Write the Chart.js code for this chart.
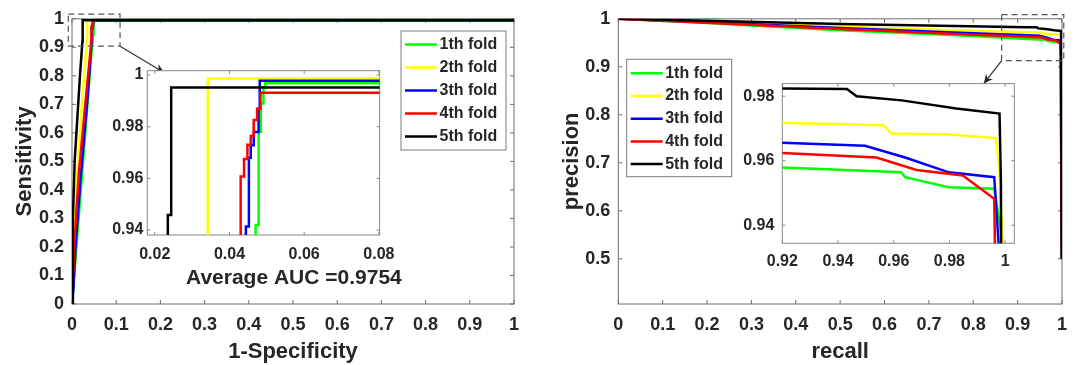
<!DOCTYPE html>
<html>
<head>
<meta charset="utf-8">
<script src="https://cdn.jsdelivr.net/npm/chart.js@4.4.1/dist/chart.umd.min.js"></script>
<style>
  body { margin: 0; background: #fff; }
  #wrap { position: relative; width: 1077px; height: 365px; }
  canvas { position: absolute; }
</style>
</head>
<body>
<div id="wrap">
  <canvas id="roc" width="540" height="365" style="left:0px;top:0px"></canvas>
  <canvas id="rocZoom" width="312" height="214" style="left:92px;top:56px"></canvas>
  <canvas id="pr" width="537" height="365" style="left:540px;top:0px"></canvas>
  <canvas id="prZoom" width="310" height="212" style="left:725px;top:66px"></canvas>
</div>
<script>
// ---- data ----
const foldLabels = ['1th fold', '2th fold', '3th fold', '4th fold', '5th fold'];
const aucLabel = 'Average AUC =0.9754';

const unitTicks = [0, 0.1, 0.2, 0.3, 0.4, 0.5, 0.6, 0.7, 0.8, 0.9, 1];
const rocZoomXTicks = [0.02, 0.04, 0.06, 0.08];
const rocZoomYTicks = [0.94, 0.96, 0.98, 1];
const prYTicks = [0.5, 0.6, 0.7, 0.8, 0.9, 1];
const prZoomXTicks = [0.92, 0.94, 0.96, 0.98, 1];
const prZoomYTicks = [0.94, 0.96, 0.98];

// ROC points: [1-specificity, sensitivity]
const rocFold1 = [[0,0],[0.01,0.2],[0.02,0.4],[0.035,0.7],[0.045,0.9],[0.047,0.93],[0.047,0.942],[0.0478,0.942],[0.0478,0.978],[0.0484,0.978],[0.0484,0.989],[0.0491,0.989],[0.0491,0.995],[0.0496,0.995],[0.0496,0.9968],[1,0.9968],[1,1]];
const rocFold2 = [[0,0],[0.004,0.2],[0.01,0.4],[0.02,0.65],[0.03,0.85],[0.0342,0.92],[0.0342,0.9987],[1,0.9987],[1,1]];
const rocFold3 = [[0,0],[0.003,0.05],[0.008,0.2],[0.02,0.45],[0.035,0.72],[0.0444,0.92],[0.0444,0.9414],[0.0452,0.9414],[0.0452,0.968],[0.0457,0.968],[0.0457,0.9728],[0.0465,0.9728],[0.0465,0.978],[0.0478,0.978],[0.0478,0.987],[0.0481,0.987],[0.0481,0.9978],[1,0.9978],[1,1]];
const rocFold4 = [[0,0],[0.005,0.2],[0.015,0.45],[0.03,0.7],[0.0425,0.9],[0.043,0.92],[0.043,0.9607],[0.0439,0.9607],[0.0439,0.9675],[0.0448,0.9675],[0.0448,0.973],[0.0457,0.973],[0.0457,0.9764],[0.0465,0.9764],[0.0465,0.9826],[0.0474,0.9826],[0.0474,0.987],[0.0483,0.987],[0.0483,0.9932],[1,0.9932],[1,1]];
const rocFold5 = [[0,0],[0.002,0.3],[0.006,0.5],[0.012,0.65],[0.018,0.8],[0.0235,0.92],[0.0235,0.9458],[0.0244,0.9458],[0.0244,0.9952],[1,0.9952],[1,1]];

// PR points: [recall, precision]
const prFold1 = [[0,1],[0.2,0.991],[0.5,0.976],[0.8,0.964],[0.92,0.9579],[0.9627,0.9564],[0.9641,0.9549],[0.9796,0.9518],[0.9961,0.9513],[1,0.93],[1,0.5]];
const prFold2 = [[0,1],[0.2,0.994],[0.5,0.984],[0.8,0.975],[0.92,0.9718],[0.9563,0.971],[0.9592,0.9684],[0.9789,0.9682],[0.9967,0.967],[0.998,0.9569],[0.9993,0.93],[1,0.5]];
const prFold3 = [[0,1],[0.2,0.993],[0.5,0.981],[0.8,0.97],[0.92,0.9656],[0.9497,0.9646],[0.9641,0.961],[0.9798,0.9564],[0.9961,0.9549],[0.998,0.93],[1,0.5]];
const prFold4 = [[0,1],[0.2,0.992],[0.5,0.979],[0.8,0.967],[0.92,0.9624],[0.9538,0.961],[0.9682,0.9571],[0.9848,0.9554],[0.9961,0.9482],[0.9964,0.93],[1,0.5]];
const prFold5 = [[0,1],[0.2,0.996],[0.5,0.989],[0.92,0.9824],[0.9432,0.9822],[0.9467,0.98],[0.9629,0.9787],[0.9825,0.9762],[0.998,0.9746],[0.9985,0.9528],[1,0.5]];

const rocFolds = [rocFold1, rocFold2, rocFold3, rocFold4, rocFold5];
const prFolds = [prFold1, prFold2, prFold3, prFold4, prFold5];

// ---- style ----
const foldColors = ['#00ff00', '#ffff00', '#0000ff', '#ff0000', '#000000'];
const FONT = '"Liberation Sans", Arial, sans-serif';
const INK = '#262626';

Chart.defaults.font.family = FONT;
Chart.defaults.font.weight = 'bold';
Chart.defaults.color = INK;

function makeDatasets(folds, width) {
    return folds.map((pts, i) => ({
        label: foldLabels[i],
        data: pts,
        borderColor: foldColors[i],
        borderWidth: width,
        pointRadius: 0,
        fill: false,
        tension: 0,
        order: folds.length - 1 - i   // last fold drawn on top, like MATLAB
    }));
}

function axis(min, max, tickValues, opts) {
    return {
        type: 'linear',
        min: min,
        max: max,
        grid: { display: false, drawTicks: false },
        border: { display: false },
        afterBuildTicks: scale => { scale.ticks = tickValues.map(v => ({ value: v })); },
        afterFit: scale => {
            if (opts.width !== undefined) scale.width = opts.width;
            if (opts.height !== undefined) scale.height = opts.height;
        },
        ticks: {
            autoSkip: false,
            maxRotation: 0,
            padding: opts.pad,
            font: { size: opts.size, weight: 'bold' },
            callback: v => String(v)
        },
        title: opts.title ? {
            display: true,
            text: opts.title,
            font: { size: 22, weight: 'bold' },
            padding: opts.titlePad
        } : { display: false }
    };
}

// box + inward tick marks, MATLAB style
const framePlugin = {
    id: 'frame',
    beforeDatasetsDraw(chart, args, o) {
        const { ctx, chartArea: a, scales: { x, y } } = chart;
        ctx.save();
        if (o.fill) {
            ctx.fillStyle = o.fill;
            ctx.fillRect(a.left, a.top, a.width, a.height);
        }
        ctx.strokeStyle = o.color;
        ctx.lineWidth = 1;
        ctx.strokeRect(a.left, a.top, a.width, a.height);
        ctx.beginPath();
        x.ticks.forEach(t => {
            const px = x.getPixelForValue(t.value);
            ctx.moveTo(px, a.bottom); ctx.lineTo(px, a.bottom - o.tick);
            ctx.moveTo(px, a.top); ctx.lineTo(px, a.top + o.tick);
        });
        y.ticks.forEach(t => {
            const py = y.getPixelForValue(t.value);
            ctx.moveTo(a.left, py); ctx.lineTo(a.left + o.tick, py);
            ctx.moveTo(a.right, py); ctx.lineTo(a.right - o.tick, py);
        });
        ctx.stroke();
        ctx.restore();
    }
};

// legend drawn inside the axes with a box
const boxLegend = {
    id: 'boxLegend',
    afterDatasetsDraw(chart, args, o) {
        if (!o.box) return;
        const ctx = chart.ctx;
        const [left, top, w, h] = o.box;
        ctx.save();
        ctx.fillStyle = '#fff';
        ctx.fillRect(left, top, w, h);
        ctx.strokeStyle = '#7a7a7a';
        ctx.lineWidth = 1;
        ctx.strokeRect(left, top, w, h);
        ctx.font = 'bold 16px ' + FONT;
        ctx.textBaseline = 'middle';
        ctx.textAlign = 'left';
        chart.data.datasets.forEach((ds, i) => {
            const yy = top + o.first + i * o.row;
            ctx.strokeStyle = ds.borderColor;
            ctx.lineWidth = 2.5;
            ctx.beginPath();
            ctx.moveTo(left + 4, yy);
            ctx.lineTo(left + 36, yy);
            ctx.stroke();
            ctx.fillStyle = INK;
            ctx.fillText(ds.label, left + 38.5, yy);
        });
        ctx.restore();
    }
};

// dashed zoom box, arrow and free text, given in data units
const zoomMark = {
    id: 'zoomMark',
    afterDatasetsDraw(chart, args, o) {
        if (!o.box) return;
        const { ctx, scales: { x, y } } = chart;
        const X = v => x.getPixelForValue(v), Y = v => y.getPixelForValue(v);
        ctx.save();
        ctx.strokeStyle = '#555';
        ctx.lineWidth = 1.2;
        ctx.setLineDash([6, 4]);
        const [x0, x1, y0, y1] = o.box;
        ctx.strokeRect(X(x0), Y(y1), X(x1) - X(x0), Y(y0) - Y(y1));
        ctx.setLineDash([]);
        const ax = X(o.arrow[0][0]), ay = Y(o.arrow[0][1]);
        const bx = X(o.arrow[1][0]), by = Y(o.arrow[1][1]);
        ctx.strokeStyle = '#333';
        ctx.beginPath();
        ctx.moveTo(ax, ay); ctx.lineTo(bx, by);
        ctx.stroke();
        const ang = Math.atan2(by - ay, bx - ax);
        const hl = 10, hw = 0.45;
        ctx.fillStyle = '#222';
        ctx.beginPath();
        ctx.moveTo(bx, by);
        ctx.lineTo(bx - hl * Math.cos(ang - hw), by - hl * Math.sin(ang - hw));
        ctx.lineTo(bx - 0.6 * hl * Math.cos(ang), by - 0.6 * hl * Math.sin(ang));
        ctx.lineTo(bx - hl * Math.cos(ang + hw), by - hl * Math.sin(ang + hw));
        ctx.closePath();
        ctx.fill();
        if (o.text) {
            ctx.font = 'bold 21px ' + FONT;
            ctx.fillStyle = INK;
            ctx.textAlign = 'center';
            ctx.textBaseline = 'middle';
            ctx.fillText(o.text, X(o.textAt[0]), Y(o.textAt[1]));
        }
        ctx.restore();
    }
};

function makeChart(id, datasets, scales, padding, pluginOpts) {
    return new Chart(document.getElementById(id), {
        type: 'line',
        data: { datasets: datasets },
        options: {
            responsive: false,
            animation: false,
            events: [],
            layout: { padding: padding },
            scales: scales,
            plugins: Object.assign({
                legend: { display: false },
                tooltip: { enabled: false }
            }, pluginOpts)
        },
        plugins: [framePlugin, boxLegend, zoomMark]
    });
}

// ROC, full range
makeChart('roc', makeDatasets(rocFolds, 2.5), {
    x: axis(0, 1, unitTicks, { size: 18, pad: 10, height: 61, title: '1-Specificity', titlePad: { top: 0, bottom: 0 } }),
    y: axis(0, 1, unitTicks, { size: 18, pad: 8, width: 72, title: 'Sensitivity', titlePad: { top: 12, bottom: 0 } })
}, { top: 17, right: 26, left: 0, bottom: 0 }, {
    frame: { color: '#6e6e6e', tick: 4 },
    boxLegend: { box: [401, 31, 105, 119], first: 13.5, row: 23 },
    zoomMark: { box: [-0.0084, 0.1087, 0.904, 1.0164], arrow: [[0.1087, 0.904], [0.208, 0.812]], text: aucLabel, textAt: [0.502, 0.0906] }
});

// ROC, zoomed
makeChart('rocZoom', makeDatasets(rocFolds, 2.5), {
    x: axis(0.018, 0.0802, rocZoomXTicks, { size: 16, pad: 9.5, height: 35 }),
    y: axis(0.9381, 1.0017, rocZoomYTicks, { size: 16, pad: 4, width: 55.3 })
}, { top: 14.7, right: 18.3, left: 0, bottom: 0 }, {
    frame: { color: '#888', tick: 3, fill: '#fff' }
});

// precision-recall, full range
makeChart('pr', makeDatasets(prFolds, 2.5), {
    x: axis(0, 1, unitTicks, { size: 18, pad: 10, height: 61, title: 'recall', titlePad: { top: 0, bottom: 0 } }),
    y: axis(0.406, 1, prYTicks, { size: 18, pad: 8, width: 78.3, title: 'precision', titlePad: { top: 19, bottom: 0 } })
}, { top: 17, right: 13.7, left: 0, bottom: 0 }, {
    frame: { color: '#6e6e6e', tick: 4 },
    boxLegend: { box: [86.7, 59.3, 105, 117.4], first: 14, row: 22.7 },
    zoomMark: { box: [0.864, 1.004, 0.913, 1.0087], arrow: [[0.864, 0.913], [0.824, 0.8654]] }
});

// precision-recall, zoomed
makeChart('prZoom', makeDatasets(prFolds, 2.5), {
    x: axis(0.92, 1.0033, prZoomXTicks, { size: 16, pad: 9, height: 34.7 }),
    y: axis(0.9344, 0.9839, prZoomYTicks, { size: 16, pad: 8, width: 57.3 })
}, { top: 16.3, right: 20.7, left: 0, bottom: 0 }, {
    frame: { color: '#888', tick: 3, fill: '#fff' }
});
</script>
</body>
</html>
